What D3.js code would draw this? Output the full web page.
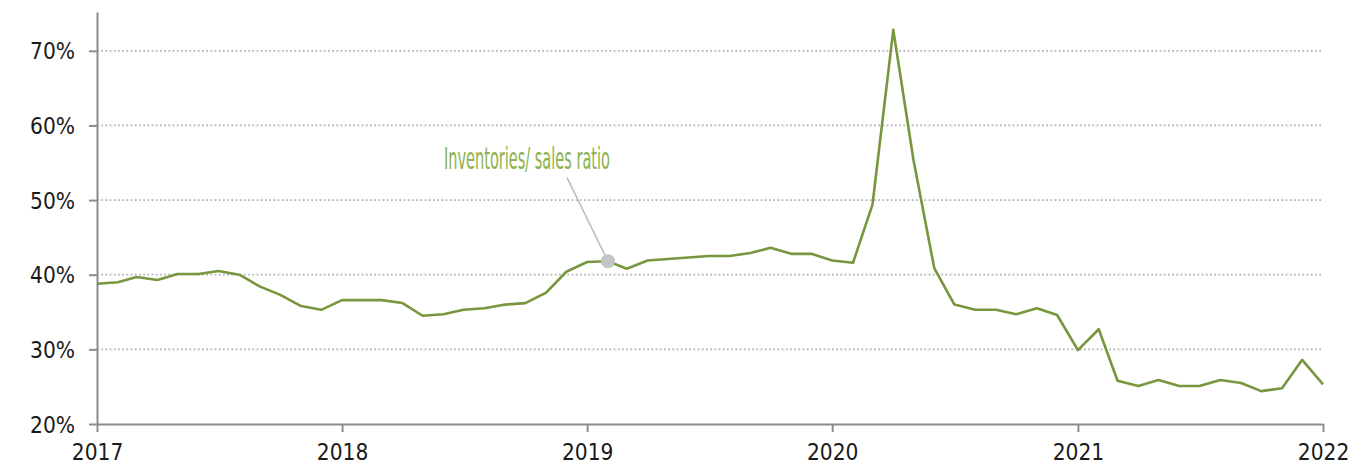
<!DOCTYPE html>
<html>
<head>
<meta charset="utf-8">
<script src="https://cdn.jsdelivr.net/npm/d3@7"></script>
<style>
  html, body { margin: 0; padding: 0; background: #fff; }
  svg { display: block; }
  .tick-label { font-family: "DejaVu Sans Condensed", "Liberation Sans Narrow", "Roboto", sans-serif; fill: #1a1a1a; }
</style>
</head>
<body>
<svg id="chart" width="1370" height="468"></svg>
<script>
// Monthly observations, Jan 2017 – Jan 2022
const months = [
  '2017-01','2017-02','2017-03','2017-04','2017-05','2017-06','2017-07','2017-08','2017-09','2017-10','2017-11','2017-12',
  '2018-01','2018-02','2018-03','2018-04','2018-05','2018-06','2018-07','2018-08','2018-09','2018-10','2018-11','2018-12',
  '2019-01','2019-02','2019-03','2019-04','2019-05','2019-06','2019-07','2019-08','2019-09','2019-10','2019-11','2019-12',
  '2020-01','2020-02','2020-03','2020-04','2020-05','2020-06','2020-07','2020-08','2020-09','2020-10','2020-11','2020-12',
  '2021-01','2021-02','2021-03','2021-04','2021-05','2021-06','2021-07','2021-08','2021-09','2021-10','2021-11','2021-12',
  '2022-01'
];

// Inventories / sales ratio, %
const ratio = [
  38.8, 39.0, 39.7, 39.3, 40.1, 40.1, 40.5, 40.0, 38.4, 37.3, 35.8, 35.3,
  36.6, 36.6, 36.6, 36.2, 34.5, 34.7, 35.3, 35.5, 36.0, 36.2, 37.6, 40.4,
  41.7, 41.8, 40.8, 41.9, 42.1, 42.3, 42.5, 42.5, 42.9, 43.6, 42.8, 42.8,
  41.9, 41.6, 49.4, 72.8, 55.4, 40.9, 36.0, 35.3, 35.3, 34.7, 35.5, 34.6,
  29.9, 32.7, 25.8, 25.1, 25.9, 25.1, 25.1, 25.9, 25.5, 24.4, 24.8, 28.6,
  25.3
];

const yTicks = [20, 30, 40, 50, 60, 70];
const xTickYears = ['2017', '2018', '2019', '2020', '2021', '2022'];

const seriesLabel = 'Inventories/ sales ratio';
const annotatedMonth = '2019-02';

const parseMonth = d3.timeParse('%Y-%m');
const parseYear = d3.timeParse('%Y');
const data = months.map((m, i) => ({ date: parseMonth(m), value: ratio[i] }));

const margin = { left: 97, right: 47, top: 12, bottom: 44 };
const width = 1370, height = 468;

const svg = d3.select('#chart');

const x = d3.scaleTime()
  .domain([parseYear(xTickYears[0]), parseYear(xTickYears[xTickYears.length - 1])])
  .range([margin.left, width - margin.right]);

const y = d3.scaleLinear()
  .domain([20, 75.2])
  .range([height - margin.bottom, margin.top]);

// Gridlines (dotted)
svg.append('g')
  .selectAll('line')
  .data(yTicks.filter(t => t > 20))
  .join('line')
  .attr('x1', margin.left)
  .attr('x2', width - margin.right)
  .attr('y1', d => y(d))
  .attr('y2', d => y(d))
  .attr('stroke', '#b3b3b3')
  .attr('stroke-width', 1.8)
  .attr('stroke-dasharray', '1.8,2.4');

// Y axis
const yAxis = svg.append('g')
  .attr('transform', `translate(${margin.left},0)`)
  .call(d3.axisLeft(y).tickValues(yTicks).tickSize(8).tickSizeOuter(0).tickFormat(d => d + '%'));
yAxis.select('.domain').attr('stroke', '#8c8c8c').attr('stroke-width', 2);
yAxis.selectAll('.tick line').attr('stroke', '#8c8c8c').attr('stroke-width', 2);
yAxis.selectAll('.tick text')
  .attr('class', 'tick-label')
  .attr('x', -22)
  .attr('dy', '0.36em')
  .style('font-size', '22.5px');

// X axis
const xAxis = svg.append('g')
  .attr('transform', `translate(0,${height - margin.bottom})`)
  .call(d3.axisBottom(x).tickValues(xTickYears.map(parseYear)).tickSize(8).tickSizeOuter(0).tickFormat(d3.timeFormat('%Y')));
xAxis.select('.domain').attr('stroke', '#8c8c8c').attr('stroke-width', 2);
xAxis.selectAll('.tick line').attr('stroke', '#8c8c8c').attr('stroke-width', 2);
xAxis.selectAll('.tick text')
  .attr('class', 'tick-label')
  .attr('y', 28)
  .attr('dy', '0.36em')
  .style('font-size', '22.5px');

// Series line
svg.append('path')
  .datum(data)
  .attr('fill', 'none')
  .attr('stroke', '#77963d')
  .attr('stroke-width', 2.6)
  .attr('stroke-linejoin', 'round')
  .attr('d', d3.line().x(d => x(d.date)).y(d => y(d.value)));

// Annotation: leader line, marker and label
const anchor = data.find(d => d3.timeFormat('%Y-%m')(d.date) === annotatedMonth);
const ax = x(anchor.date), ay = y(anchor.value);

svg.append('line')
  .attr('x1', ax - 41)
  .attr('y1', ay - 84)
  .attr('x2', ax)
  .attr('y2', ay)
  .attr('stroke', '#bdbdbd')
  .attr('stroke-width', 1.6);

svg.append('circle')
  .attr('cx', ax)
  .attr('cy', ay)
  .attr('r', 7)
  .attr('fill', '#c4c4c4');

svg.append('text')
  .attr('x', ax - 81)
  .attr('y', ay - 92)
  .attr('text-anchor', 'middle')
  .attr('textLength', 166)
  .attr('lengthAdjust', 'spacingAndGlyphs')
  .style('font-family', '"DejaVu Sans Condensed", "Liberation Sans Narrow", sans-serif')
  .style('font-size', '31px')
  .attr('fill', '#8db14d')
  .text(seriesLabel);
</script>
</body>
</html>
